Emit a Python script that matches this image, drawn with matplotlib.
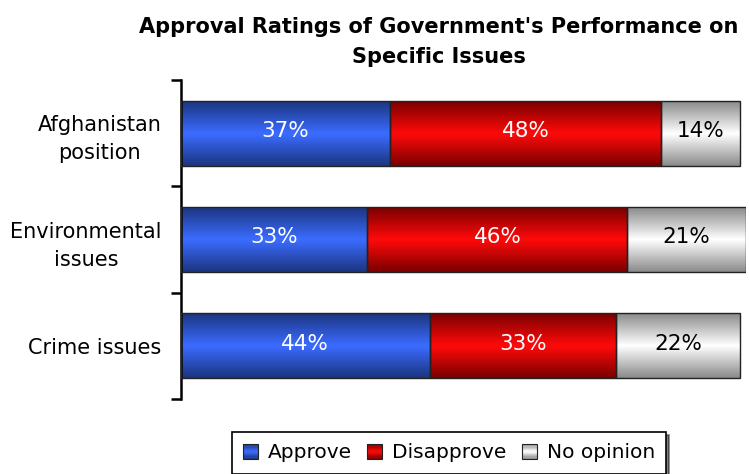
import matplotlib.pyplot as plt
import numpy as np
from matplotlib.colors import LinearSegmentedColormap
from matplotlib.patches import Rectangle
from matplotlib.legend_handler import HandlerBase

categories = ["Afghanistan\nposition", "Environmental\nissues", "Crime issues"]
approve = [37, 33, 44]
disapprove = [48, 46, 33]
no_opinion = [14, 21, 22]
series_names = ["Approve", "Disapprove", "No opinion"]

# dark edge colour -> light middle colour for each series
shades = [("#1c3580", "#3a6cff"), ("#7a0000", "#ff0a0a"), ("#8a8a8a", "#ffffff")]
text_colors = ["white", "white", "black"]

plt.rcParams['font.family'] = ['DejaVu Sans']

fig = plt.figure(figsize=(7.49, 4.74), dpi=100)
ax = fig.add_axes([181/749, 1 - 399/474, 565/749, 319/474])

grad = np.concatenate([np.linspace(0, 1, 64), np.linspace(1, 0, 64)]).reshape(-1, 1)
cmaps = [LinearSegmentedColormap.from_list("g%d" % i, [d, l]) for i, (d, l) in enumerate(shades)]

ypos = [2, 1, 0]
h = 0.61
data = [approve, disapprove, no_opinion]
for i, y in enumerate(ypos):
    left = 0
    for s in range(3):
        w = data[s][i]
        ax.imshow(grad, cmap=cmaps[s], extent=(left, left + w, y - h/2, y + h/2),
                  aspect='auto', interpolation='bilinear', zorder=2)
        ax.add_patch(Rectangle((left, y - h/2), w, h, facecolor='none',
                               edgecolor='#222222', linewidth=1, zorder=3))
        ax.text(left + w/2, y + 0.02, "%d%%" % w, ha='center', va='center',
                color=text_colors[s], fontsize=15.5, zorder=4)
        left += w

ax.set_xlim(0, 100)
ax.set_ylim(-0.5, 2.5)
ax.set_xticks([])
ax.set_yticks([-0.5, 0.5, 1.5, 2.5])
ax.set_yticklabels([])
ax.set_yticks(ypos, minor=True)
ax.set_yticklabels(categories, minor=True, fontsize=15, multialignment='center',
                   linespacing=1.5)
ax.tick_params(axis='y', which='major', direction='out', length=7, width=1.8)
ax.tick_params(axis='y', which='minor', length=0, pad=14)
for sp in ['top', 'right', 'bottom']:
    ax.spines[sp].set_visible(False)
ax.spines['left'].set_linewidth(1.8)


class GradHandler(HandlerBase):
    def __init__(self, dark, light):
        super().__init__()
        self.dark = dark
        self.light = light

    def create_artists(self, legend, orig_handle, xdescent, ydescent, width, height, fontsize, trans):
        cm = LinearSegmentedColormap.from_list("h", [self.dark, self.light])
        size = width
        x0 = -xdescent
        y0 = -ydescent + (height - size) / 2
        n = 12
        arts = []
        for k in range(n):
            t = 1 - abs((k + 0.5) / n * 2 - 1)
            arts.append(Rectangle((x0, y0 + k * size / n), size, size / n + 0.2,
                                  facecolor=cm(t), edgecolor='none', transform=trans))
        arts.append(Rectangle((x0, y0), size, size, facecolor='none',
                              edgecolor='#222222', linewidth=0.8, transform=trans))
        return arts


handles = [Rectangle((0, 0), 1, 1) for _ in range(3)]
hmap = {handles[k]: GradHandler(*shades[k]) for k in range(3)}
leg = fig.legend(handles, series_names, handler_map=hmap, loc='center',
                 bbox_to_anchor=(449/749, 1 - 453/474), ncol=3, fontsize=14.5,
                 frameon=True, fancybox=False, shadow={'color': 'black'},
                 handlelength=0.75, handletextpad=0.5, columnspacing=0.75,
                 borderpad=0.55)
leg.get_frame().set_edgecolor('black')
leg.get_frame().set_linewidth(1.2)

fig.text(439/749, 1 - 42/474, "Approval Ratings of Government's Performance on\nSpecific Issues",
         ha='center', va='center', fontsize=15, fontweight='bold', linespacing=1.6)

fig.savefig("out.png", dpi=100)
